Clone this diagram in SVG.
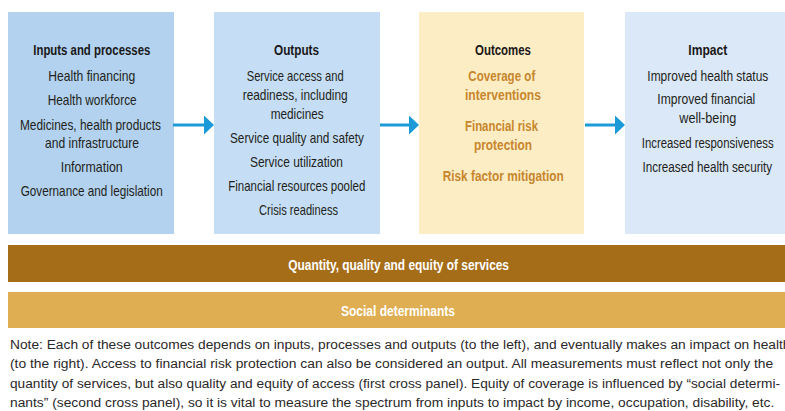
<svg xmlns="http://www.w3.org/2000/svg" width="785" height="411" viewBox="0 0 785 411">
<style>
  text { font-family: "Liberation Sans", Arial, sans-serif; }
  .t { font-size: 14.5px; fill: #231f20; }
  .h { font-size: 14.5px; font-weight: bold; fill: #1a1718; }
  .o { font-size: 14.5px; font-weight: bold; fill: #c7862c; }
  .w { font-size: 14px; font-weight: bold; fill: #ffffff; }
  .n { font-size: 12.5px; fill: #2b2829; }
  .m { text-anchor: middle; }
  .arrow { stroke: #1b9ad7; stroke-width: 3; fill: none; }
</style>
<defs>
  <marker id="ah" markerUnits="userSpaceOnUse" viewBox="0 0 10 19" refX="1" refY="9.5" markerWidth="10" markerHeight="19" orient="auto">
    <path d="M0,0 L10,9.5 L0,19 Z" fill="#1b9ad7"/>
  </marker>
</defs>
<rect width="785" height="411" fill="#ffffff"/>

<g id="node-inputs">
  <rect x="8" y="12" width="166" height="222" fill="#b2d2ef"/>
  <text class="h" x="33.3" y="55" textLength="117" lengthAdjust="spacingAndGlyphs">Inputs and processes</text>
  <text class="t" x="48.3" y="81" textLength="87" lengthAdjust="spacingAndGlyphs">Health financing</text>
  <text class="t" x="47.7" y="105" textLength="89" lengthAdjust="spacingAndGlyphs">Health workforce</text>
  <text class="t" x="20" y="130" textLength="141" lengthAdjust="spacingAndGlyphs">Medicines, health products</text>
  <text class="t" x="45" y="148" textLength="94" lengthAdjust="spacingAndGlyphs">and infrastructure</text>
  <text class="t" x="60.7" y="172" textLength="62" lengthAdjust="spacingAndGlyphs">Information</text>
  <text class="t" x="20.7" y="196" textLength="142" lengthAdjust="spacingAndGlyphs">Governance and legislation</text>
</g>

<g id="node-outputs">
  <rect x="214" y="12" width="166" height="222" fill="#c5def5"/>
  <text class="h" x="274" y="55" textLength="45" lengthAdjust="spacingAndGlyphs">Outputs</text>
  <text class="t" x="246.7" y="81" textLength="97" lengthAdjust="spacingAndGlyphs">Service access and</text>
  <text class="t" x="242.7" y="100" textLength="105" lengthAdjust="spacingAndGlyphs">readiness, including</text>
  <text class="t" x="270.7" y="119" textLength="53" lengthAdjust="spacingAndGlyphs">medicines</text>
  <text class="t" x="230" y="143" textLength="134" lengthAdjust="spacingAndGlyphs">Service quality and safety</text>
  <text class="t" x="250" y="167" textLength="93" lengthAdjust="spacingAndGlyphs">Service utilization</text>
  <text class="t" x="228.3" y="191" textLength="137" lengthAdjust="spacingAndGlyphs">Financial resources pooled</text>
  <text class="t" x="259" y="215" textLength="79" lengthAdjust="spacingAndGlyphs">Crisis readiness</text>
</g>

<g id="node-outcomes">
  <rect x="419" y="12" width="165" height="222" fill="#fdedc5"/>
  <text class="h" x="475" y="55" textLength="56" lengthAdjust="spacingAndGlyphs">Outcomes</text>
  <text class="o" x="468.3" y="81" textLength="67" lengthAdjust="spacingAndGlyphs">Coverage of</text>
  <text class="o" x="465" y="100" textLength="76" lengthAdjust="spacingAndGlyphs">interventions</text>
  <text class="o" x="465" y="131" textLength="73" lengthAdjust="spacingAndGlyphs">Financial risk</text>
  <text class="o" x="474" y="150" textLength="58" lengthAdjust="spacingAndGlyphs">protection</text>
  <text class="o" x="442.7" y="181" textLength="121" lengthAdjust="spacingAndGlyphs">Risk factor mitigation</text>
</g>

<g id="node-impact">
  <rect x="625" y="12" width="160" height="222" fill="#dbe8f8"/>
  <text class="h" x="688.3" y="55" textLength="39" lengthAdjust="spacingAndGlyphs">Impact</text>
  <text class="t m" transform="translate(707.8,81) scale(0.825,1)">Improved health status</text>
  <text class="t" x="657.3" y="104" textLength="98" lengthAdjust="spacingAndGlyphs">Improved financial</text>
  <text class="t" x="679.3" y="123" textLength="57" lengthAdjust="spacingAndGlyphs">well-being</text>
  <text class="t m" transform="translate(707.7,148) scale(0.784,1)">Increased responsiveness</text>
  <text class="t m" transform="translate(707.3,172) scale(0.806,1)">Increased health security</text>
</g>

<g id="connectors">
  <line class="arrow" x1="173" y1="125" x2="205" y2="125" marker-end="url(#ah)"/>
  <line class="arrow" x1="380" y1="125" x2="410" y2="125" marker-end="url(#ah)"/>
  <line class="arrow" x1="585" y1="125" x2="616" y2="125" marker-end="url(#ah)"/>
</g>

<g id="node-quantity">
  <rect x="8" y="245" width="777" height="37" fill="#a66d19"/>
  <text class="w" x="288.3" y="270" textLength="220.7" lengthAdjust="spacingAndGlyphs">Quantity, quality and equity of services</text>
</g>

<g id="node-social">
  <rect x="8" y="292" width="777" height="36" fill="#e0ae52"/>
  <text class="w" x="341" y="316" textLength="114" lengthAdjust="spacingAndGlyphs">Social determinants</text>
</g>

<g id="note">
  <text class="n" x="10" y="349" textLength="780.5" lengthAdjust="spacingAndGlyphs">Note: Each of these outcomes depends on inputs, processes and outputs (to the left), and eventually makes an impact on health</text>
  <text class="n" x="10" y="368" textLength="763.3" lengthAdjust="spacingAndGlyphs">(to the right). Access to financial risk protection can also be considered an output. All measurements must reflect not only the</text>
  <text class="n" x="10" y="388" textLength="770" lengthAdjust="spacingAndGlyphs">quantity of services, but also quality and equity of access (first cross panel). Equity of coverage is influenced by “social determi-</text>
  <text class="n" x="10" y="407" textLength="764.3" lengthAdjust="spacingAndGlyphs">nants” (second cross panel), so it is vital to measure the spectrum from inputs to impact by income, occupation, disability, etc.</text>
</g>
</svg>
